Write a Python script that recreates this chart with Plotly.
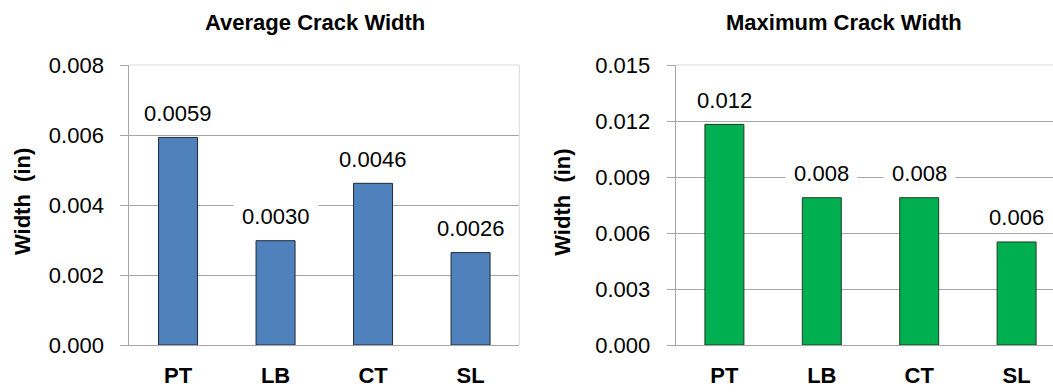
import plotly.graph_objects as go

# Crack width results per specimen group
categories = ["PT", "LB", "CT", "SL"]
avg_width = [0.00593, 0.00298, 0.00462, 0.00264]
max_width = [0.01182, 0.00789, 0.00789, 0.00552]

avg_ticks = [0.000, 0.002, 0.004, 0.006, 0.008]
max_ticks = [0.000, 0.003, 0.006, 0.009, 0.012, 0.015]

W, H = 1053, 392
FONT = "Liberation Sans Narrow, Arial Narrow, Liberation Sans, Arial, sans-serif"
GRID = "#a6a6a6"
FRAME = "#d9d9d9"

# plot areas in pixels
left_px = (129.3, 519.3)
right_px = (675.7, 1065.3)
top_px, bottom_px = 65, 345
ydom = [(H - bottom_px) / H, (H - top_px) / H]

fig = go.Figure()
fig.add_trace(go.Bar(x=categories, y=avg_width, width=0.4, xaxis="x", yaxis="y",
                     marker=dict(color="#4F81BD", line=dict(color="#1f2a36", width=1)),
                     hoverinfo="x+y"))
fig.add_trace(go.Bar(x=categories, y=max_width, width=0.4, xaxis="x2", yaxis="y2",
                     marker=dict(color="#00B050", line=dict(color="#1f3a26", width=1)),
                     hoverinfo="x+y"))

# visible part of the right category axis (the plot area runs past the page edge)
cat_px = (right_px[1] - right_px[0]) / len(categories)
right_end = len(categories) - 0.5 - (right_px[1] - W) / cat_px

xcommon = dict(type="category", showline=True, linecolor=GRID, linewidth=1,
               showgrid=False, ticks="", ticklabelstandoff=11, automargin=False,
               tickfont=dict(family=FONT, size=22, color="#000", weight="bold"))
ycommon = dict(showline=True, linecolor=GRID, linewidth=1, showgrid=True,
               gridcolor=GRID, gridwidth=1, zeroline=False, ticks="outside",
               ticklen=8, tickcolor=GRID, ticklabelstandoff=12, automargin=False,
               tickfont=dict(family=FONT, size=22, color="#000"), tickformat=".3f")

fig.update_layout(
    width=W, height=H, margin=dict(l=0, r=0, t=0, b=0, autoexpand=False),
    paper_bgcolor="white", plot_bgcolor="white", showlegend=False,
    xaxis=dict(domain=[left_px[0] / W, left_px[1] / W], range=[-0.5, 3.5],
               anchor="y", **xcommon),
    yaxis=dict(domain=ydom, range=[0, 0.008], tickvals=avg_ticks, anchor="x", **ycommon),
    xaxis2=dict(domain=[right_px[0] / W, 1.0], range=[-0.5, right_end],
                anchor="y2", **xcommon),
    yaxis2=dict(domain=ydom, range=[0, 0.015], tickvals=max_ticks, anchor="x2", **ycommon),
)

# light frame on the top (and right side of the left plot area)
shapes = [
    dict(type="line", xref="x domain", yref="y domain", x0=0, x1=1, y0=1, y1=1,
         line=dict(color=FRAME, width=1), layer="above"),
    dict(type="line", xref="x domain", yref="y domain", x0=1, x1=1, y0=0, y1=1,
         line=dict(color=FRAME, width=1), layer="above"),
    dict(type="line", xref="x2 domain", yref="y2 domain", x0=0, x1=1, y0=1, y1=1,
         line=dict(color=FRAME, width=1), layer="above"),
]
fig.update_layout(shapes=shapes)

annotations = []
# value labels over each bar
for xa, ya, vals, fmt in (("x", "y", avg_width, "{:.4f}"), ("x2", "y2", max_width, "{:.3f}")):
    for c, v in zip(categories, vals):
        annotations.append(dict(
            x=c, y=v, xref=xa, yref=ya, text="\u00a0" + fmt.format(v) + "\u00a0",
            showarrow=False, yanchor="middle", yshift=24, bgcolor="white", borderpad=2,
            font=dict(family=FONT, size=22, color="#000")))

# chart titles
annotations.append(dict(x=315 / W, y=1 - 23 / H, xref="paper", yref="paper",
                        text="Average Crack Width", showarrow=False,
                        xanchor="center", yanchor="middle",
                        font=dict(family=FONT, size=22, color="#000", weight="bold")))
annotations.append(dict(x=844 / W, y=1 - 23 / H, xref="paper", yref="paper",
                        text="Maximum Crack Width", showarrow=False,
                        xanchor="center", yanchor="middle",
                        font=dict(family=FONT, size=22, color="#000", weight="bold")))
# y axis titles
for xc in (23, 562.7):
    annotations.append(dict(x=xc / W, y=1 - 202 / H, xref="paper", yref="paper",
                            text="Width  (in)", showarrow=False, textangle=-90,
                            xanchor="center", yanchor="middle",
                            font=dict(family=FONT, size=22, color="#000", weight="bold")))
fig.update_layout(annotations=annotations)

fig.write_html("out.html")
